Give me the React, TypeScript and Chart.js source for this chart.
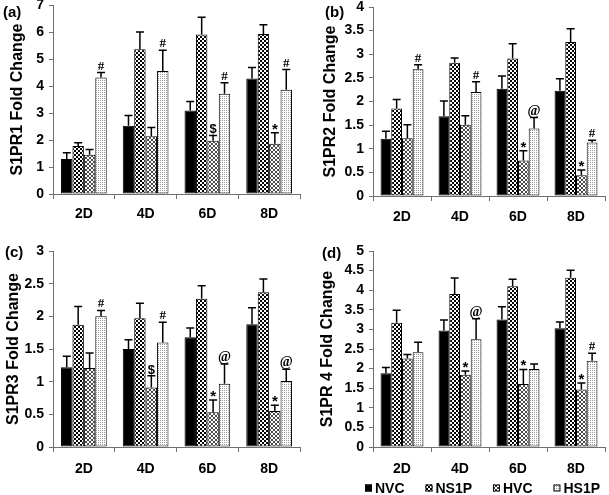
import React, { useEffect, useRef } from "react";
import { Chart, registerables } from "chart.js";

Chart.register(...registerables);

// ---------- data ----------
const categories = ["2D", "4D", "6D", "8D"];
const seriesNames = ["NVC", "NS1P", "HVC", "HS1P"];

// (a) S1PR1
const s1pr1NVC = [1.3, 2.53, 3.09, 4.28];
const s1pr1NVCErr = [0.23, 0.38, 0.34, 0.41];
const s1pr1NS1P = [1.78, 5.36, 5.91, 5.93];
const s1pr1NS1PErr = [0.12, 0.64, 0.64, 0.34];
const s1pr1HVC = [1.45, 2.14, 1.97, 1.86];
const s1pr1HVCErr = [0.2, 0.32, 0.2, 0.41];
const s1pr1HS1P = [4.32, 4.56, 3.71, 3.86];
const s1pr1HS1PErr = [0.18, 0.77, 0.41, 0.75];
const s1pr1HVCMarks = ["", "", "$", "*"];
const s1pr1HS1PMarks = ["#", "#", "#", "#"];

// (b) S1PR2
const s1pr2NVC = [1.21, 1.69, 2.27, 2.23];
const s1pr2NVCErr = [0.16, 0.32, 0.27, 0.25];
const s1pr2NS1P = [1.85, 2.82, 2.91, 3.26];
const s1pr2NS1PErr = [0.19, 0.1, 0.31, 0.28];
const s1pr2HVC = [1.22, 1.51, 0.75, 0.44];
const s1pr2HVCErr = [0.29, 0.19, 0.21, 0.11];
const s1pr2HS1P = [2.68, 2.2, 1.43, 1.13];
const s1pr2HS1PErr = [0.1, 0.22, 0.23, 0.05];
const s1pr2HVCMarks = ["", "", "*", "*"];
const s1pr2HS1PMarks = ["#", "#", "@", "#"];

// (c) S1PR3
const s1pr3NVC = [1.22, 1.5, 1.68, 1.88];
const s1pr3NVCErr = [0.17, 0.14, 0.14, 0.25];
const s1pr3NS1P = [1.87, 1.97, 2.27, 2.37];
const s1pr3NS1PErr = [0.28, 0.23, 0.2, 0.2];
const s1pr3HVC = [1.21, 0.91, 0.53, 0.55];
const s1pr3HVCErr = [0.23, 0.18, 0.19, 0.09];
const s1pr3HS1P = [2.0, 1.6, 0.97, 1.01];
const s1pr3HS1PErr = [0.09, 0.31, 0.3, 0.18];
const s1pr3HVCMarks = ["", "$", "*", "*"];
const s1pr3HS1PMarks = ["#", "#", "@", "@"];

// (d) S1PR 4
const s1pr4NVC = [1.88, 2.97, 3.25, 3.03];
const s1pr4NVCErr = [0.15, 0.27, 0.33, 0.16];
const s1pr4NS1P = [3.17, 3.9, 4.1, 4.32];
const s1pr4NS1PErr = [0.32, 0.41, 0.18, 0.19];
const s1pr4HVC = [2.26, 1.84, 1.61, 1.47];
const s1pr4HVCErr = [0.1, 0.1, 0.37, 0.16];
const s1pr4HS1P = [2.42, 2.75, 1.99, 2.2];
const s1pr4HS1PErr = [0.25, 0.52, 0.13, 0.19];
const s1pr4HVCMarks = ["", "*", "*", "*"];
const s1pr4HS1PMarks = ["", "@", "", "#"];

const noMarks = ["", "", "", ""];

// ---------- styling helpers ----------
const SANS = '"Liberation Sans", Arial, sans-serif';
const SERIF = '"Liberation Serif", "Times New Roman", serif';
const AXIS_GRAY = "#707070";

function makePattern(kind: string): CanvasPattern | string {
  if (kind === "solid") return "#000000";
  const c = document.createElement("canvas");
  const g = c.getContext("2d")!;
  if (kind === "checker") {
    c.width = 4; c.height = 4;
    g.fillStyle = "#fff"; g.fillRect(0, 0, 4, 4);
    g.fillStyle = "#000"; g.fillRect(0, 0, 2, 2); g.fillRect(2, 2, 2, 2);
  } else if (kind === "cross") {
    c.width = 4; c.height = 4;
    g.fillStyle = "#fff"; g.fillRect(0, 0, 4, 4);
    g.fillStyle = "#4a4a4a";
    for (let i = 0; i < 4; i++) { g.fillRect(i, i, 1, 1); g.fillRect(3 - i, i, 1, 1); }
  } else {
    c.width = 2; c.height = 2;
    g.fillStyle = "#fff"; g.fillRect(0, 0, 2, 2);
    g.fillStyle = "#9a9a9a"; g.fillRect(0, 0, 1, 1);
  }
  return g.createPattern(c, "repeat")!;
}
const patternKinds = ["solid", "checker", "cross", "dots"];

const markFonts: Record<string, { font: string; dy: number }> = {
  "#": { font: `bold 13px ${SERIF}`, dy: 0 },
  "@": { font: `bold 14px ${SERIF}`, dy: 0 },
  "*": { font: `bold 15px ${SANS}`, dy: 4 },
  "$": { font: `bold 13px ${SANS}`, dy: 1 },
};

const errorBarPlugin = {
  id: "errorBars",
  afterDatasetsDraw(chart: any) {
    const ctx = chart.ctx;
    const ys = chart.scales.y;
    chart.data.datasets.forEach((ds: any, i: number) => {
      const meta = chart.getDatasetMeta(i);
      meta.data.forEach((bar: any, j: number) => {
        const v = ds.data[j];
        const e = ds.errors[j];
        const yTop = ys.getPixelForValue(v + e);
        const x = bar.x;
        ctx.save();
        ctx.strokeStyle = "#000";
        ctx.lineWidth = 1.5;
        ctx.beginPath();
        ctx.moveTo(x, bar.y);
        ctx.lineTo(x, yTop);
        ctx.moveTo(x - 4, yTop);
        ctx.lineTo(x + 4, yTop);
        ctx.stroke();
        const m = ds.marks[j];
        if (m) {
          const st = markFonts[m] || { font: `bold 13px ${SANS}`, dy: 0 };
          ctx.font = st.font;
          ctx.fillStyle = "#000";
          ctx.textAlign = "center";
          ctx.textBaseline = "alphabetic";
          ctx.fillText(m, x, yTop - 3 + st.dy);
        }
        ctx.restore();
      });
    });
  },
};

const panelLabelPlugin = {
  id: "panelLabel",
  afterDraw(chart: any, _a: any, opts: any) {
    if (!opts || !opts.text) return;
    const ctx = chart.ctx;
    ctx.save();
    ctx.font = `bold 15px ${SANS}`;
    ctx.fillStyle = "#000";
    ctx.textAlign = "left";
    ctx.textBaseline = "middle";
    ctx.fillText(opts.text, opts.x, opts.y);
    ctx.restore();
  },
};

const customLegendPlugin = {
  id: "customLegend",
  afterDraw(chart: any, _a: any, opts: any) {
    if (!opts || !opts.show) return;
    const ctx = chart.ctx;
    ctx.save();
    ctx.font = `bold 14px ${SANS}`;
    ctx.textBaseline = "middle";
    ctx.textAlign = "left";
    const box = 7;
    const gapText = 3;
    const dsList = chart.data.datasets;
    const widths = dsList.map((ds: any) => ctx.measureText(ds.label).width);
    const used = widths.reduce((a: number, w: number) => a + w + box + gapText, 0);
    const gap = (opts.x1 - opts.x0 - used) / (dsList.length - 1);
    let x = opts.x0;
    const y = opts.y;
    dsList.forEach((ds: any, i: number) => {
      ctx.fillStyle = ds.backgroundColor;
      ctx.fillRect(x, y - box / 2, box, box);
      ctx.strokeStyle = "#000";
      ctx.lineWidth = 1;
      ctx.strokeRect(x + 0.5, y - box / 2 + 0.5, box - 1, box - 1);
      x += box + gapText;
      ctx.fillStyle = "#000";
      ctx.fillText(ds.label, x, y + 1);
      x += widths[i] + gap;
    });
    ctx.restore();
  },
};

type PanelSpec = {
  letter: string;
  title: string;
  max: number;
  step: number;
  values: number[][];
  errors: number[][];
  marks: string[][];
  left: number;
  top: number;
  width: number;
  height: number;
  padTop: number;
  padRight: number;
  yWidth: number;
  xHeight: number;
  titlePad: number;
  xLabelPad: number;
  letterX: number;
  letterY: number;
  legend: boolean;
};

const panels: PanelSpec[] = [
  {
    letter: "(a)", title: "S1PR1 Fold Change", max: 7, step: 1,
    values: [s1pr1NVC, s1pr1NS1P, s1pr1HVC, s1pr1HS1P],
    errors: [s1pr1NVCErr, s1pr1NS1PErr, s1pr1HVCErr, s1pr1HS1PErr],
    marks: [noMarks, noMarks, s1pr1HVCMarks, s1pr1HS1PMarks],
    left: 0, top: 0, width: 302, height: 240, padTop: 5, padRight: 2,
    yWidth: 53, xHeight: 46, titlePad: 8, xLabelPad: 7, letterX: 3, letterY: 13, legend: false,
  },
  {
    letter: "(b)", title: "S1PR2 Fold Change", max: 4, step: 0.5,
    values: [s1pr2NVC, s1pr2NS1P, s1pr2HVC, s1pr2HS1P],
    errors: [s1pr2NVCErr, s1pr2NS1PErr, s1pr2HVCErr, s1pr2HS1PErr],
    marks: [noMarks, noMarks, s1pr2HVCMarks, s1pr2HS1PMarks],
    left: 302, top: 0, width: 307, height: 240, padTop: 7, padRight: 4,
    yWidth: 71, xHeight: 44, titlePad: 19, xLabelPad: 7.5, letterX: 23, letterY: 13, legend: false,
  },
  {
    letter: "(c)", title: "S1PR3 Fold Change", max: 3, step: 0.5,
    values: [s1pr3NVC, s1pr3NS1P, s1pr3HVC, s1pr3HS1P],
    errors: [s1pr3NVCErr, s1pr3NS1PErr, s1pr3HVCErr, s1pr3HS1PErr],
    marks: [noMarks, noMarks, s1pr3HVCMarks, s1pr3HS1PMarks],
    left: 0, top: 240, width: 302, height: 255, padTop: 11, padRight: 2,
    yWidth: 53, xHeight: 48, titlePad: 4, xLabelPad: 8.5, letterX: 5, letterY: 13, legend: false,
  },
  {
    letter: "(d)", title: "S1PR 4 Fold Change", max: 5, step: 0.5,
    values: [s1pr4NVC, s1pr4NS1P, s1pr4HVC, s1pr4HS1P],
    errors: [s1pr4NVCErr, s1pr4NS1PErr, s1pr4HVCErr, s1pr4HS1PErr],
    marks: [noMarks, noMarks, s1pr4HVCMarks, s1pr4HS1PMarks],
    left: 302, top: 240, width: 307, height: 255, padTop: 11, padRight: 4,
    yWidth: 71, xHeight: 48, titlePad: 16, xLabelPad: 8.5, letterX: 20, letterY: 14, legend: true,
  },
];

function Panel({ spec }: { spec: PanelSpec }) {
  const ref = useRef<HTMLCanvasElement | null>(null);
  useEffect(() => {
    if (!ref.current) return;
    const datasets = seriesNames.map((name, i) => ({
      label: name,
      data: spec.values[i],
      errors: spec.errors[i],
      marks: spec.marks[i],
      backgroundColor: makePattern(patternKinds[i]),
      borderColor: "#000",
      borderWidth: 1,
      borderSkipped: false,
      categoryPercentage: 0.74,
      barPercentage: 1.0,
    }));
    const chart = new Chart(ref.current, {
      type: "bar",
      data: { labels: categories, datasets: datasets as any },
      options: {
        animation: false,
        responsive: false,
        devicePixelRatio: 1,
        events: [],
        layout: { padding: { top: spec.padTop, right: spec.padRight, left: 0, bottom: 0 } },
        plugins: {
          legend: { display: false },
          tooltip: { enabled: false },
          panelLabel: { text: spec.letter, x: spec.letterX, y: spec.letterY },
          customLegend: { show: spec.legend, x0: 63, x1: 298, y: 248 },
        } as any,
        scales: {
          x: {
            grid: {
              display: true,
              drawOnChartArea: false,
              drawTicks: true,
              tickLength: 5,
              color: AXIS_GRAY,
              offset: true,
            },
            border: { display: true, color: AXIS_GRAY, width: 1 },
            ticks: {
              color: "#000",
              font: { family: SANS, size: 14, weight: "bold" },
              padding: spec.xLabelPad,
              maxRotation: 0,
            },
            afterFit: (s: any) => { s.height = spec.xHeight; },
          },
          y: {
            min: 0,
            max: spec.max,
            grid: {
              display: true,
              drawOnChartArea: false,
              drawTicks: true,
              tickLength: 4,
              color: AXIS_GRAY,
            },
            border: { display: true, color: AXIS_GRAY, width: 1 },
            ticks: {
              stepSize: spec.step,
              color: "#000",
              font: { family: SANS, size: 14, weight: "bold", lineHeight: 0.01 },
              padding: 5,
              callback: (v: any) => String(Math.round(Number(v) * 100) / 100),
            },
            title: {
              display: true,
              text: spec.title,
              color: "#000",
              font: { family: SANS, size: 16, weight: "bold" },
              padding: { top: spec.titlePad, bottom: 0 },
            },
            afterFit: (s: any) => { s.width = spec.yWidth; },
          },
        },
      },
      plugins: [errorBarPlugin, panelLabelPlugin, customLegendPlugin],
    });
    return () => chart.destroy();
  }, [spec]);
  return (
    <canvas
      ref={ref}
      width={spec.width}
      height={spec.height}
      style={{ position: "absolute", left: spec.left, top: spec.top, width: spec.width, height: spec.height }}
    />
  );
}

export default function App() {
  return (
    <div style={{ position: "fixed", left: 0, top: 0, width: 609, height: 495, background: "#fff", overflow: "hidden" }}>
      {panels.map((p) => (
        <Panel key={p.letter} spec={p} />
      ))}
    </div>
  );
}
